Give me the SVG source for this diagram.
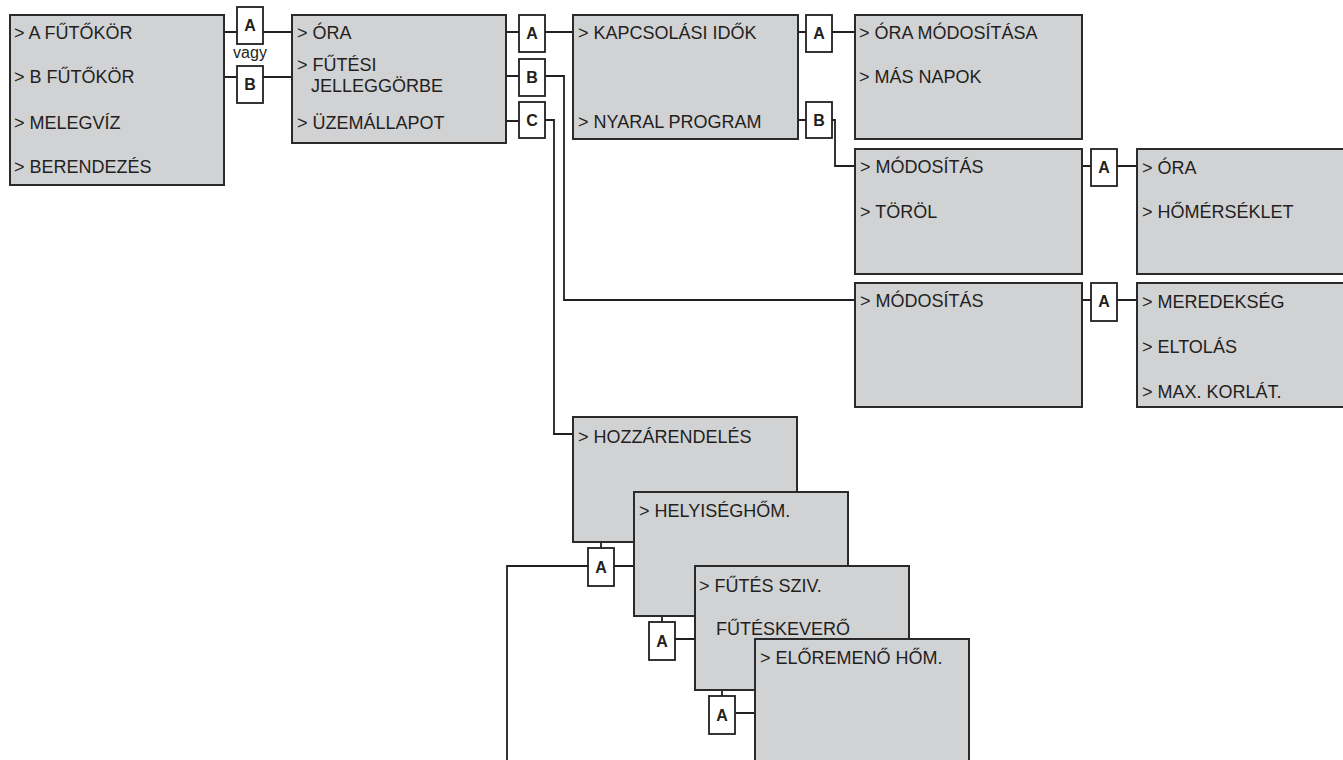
<svg xmlns="http://www.w3.org/2000/svg" width="1343" height="760" viewBox="0 0 1343 760">
<style>
.node{fill:#d1d2d4;stroke:#2a2a2a;stroke-width:2}
.t{font-family:"Liberation Sans",Arial,sans-serif;font-size:18px;fill:#231f20}
.conn path{fill:none;stroke:#231f20;stroke-width:1.8}
.lb rect{fill:#fff;stroke:#231f20;stroke-width:1.8}
.lb text{font-family:"Liberation Sans",Arial,sans-serif;font-size:16px;font-weight:bold;fill:#231f20;text-anchor:middle}
.v{font-family:"Liberation Sans",Arial,sans-serif;font-size:16px;fill:#231f20;text-anchor:middle}
</style>
<rect width="1343" height="760" fill="#fff"/>

<g id="connectors" class="conn">
<path d="M156 32H237M263 32H292"/>
<path d="M156 77H237M263 77H292"/>
<path d="M392 32H519M545 32H573"/>
<path d="M460 76H519M545 76H564V300H855"/>
<path d="M494 121H519M545 120H554V434H573"/>
<path d="M778 32H806M832 32H855"/>
<path d="M796 120H806M832 120H835V166H855"/>
<path d="M1038 166H1091M1117 166H1137"/>
<path d="M1029 300H1091M1117 300H1137"/>
<path d="M601 542V548M614 566H634M588 566H507V770"/>
<path d="M662 616V622M675 639H695"/>
<path d="M722 690V696M736 713H755"/>
<g class="lb">
<rect x="237" y="7" width="26" height="37"/><text x="250" y="31">A</text>
<rect x="237" y="66" width="26" height="37"/><text x="250" y="90">B</text>
<rect x="519" y="15" width="26" height="37"/><text x="532" y="39">A</text>
<rect x="519" y="59" width="26" height="37"/><text x="532" y="83">B</text>
<rect x="519" y="102" width="26" height="36"/><text x="532" y="126">C</text>
<rect x="806" y="15" width="26" height="37"/><text x="819" y="39">A</text>
<rect x="806" y="102" width="26" height="36"/><text x="819" y="126">B</text>
<rect x="1091" y="149" width="26" height="37"/><text x="1104" y="173">A</text>
<rect x="1091" y="283" width="26" height="38"/><text x="1104" y="307">A</text>
<rect x="588" y="548" width="26" height="38"/><text x="601" y="573">A</text>
<rect x="649" y="622" width="26" height="38"/><text x="662" y="647">A</text>
<rect x="709" y="696" width="26" height="38"/><text x="722" y="721">A</text>
</g>
<text class="v" x="250" y="58">vagy</text>
</g>

<g id="n-main">
<rect class="node" x="10" y="15" width="214" height="170"/>
<text class="t" x="14" y="39">&gt; A FŰTŐKÖR</text>
<text class="t" x="14" y="83">&gt; B FŰTŐKÖR</text>
<text class="t" x="14" y="129">&gt; MELEGVÍZ</text>
<text class="t" x="14" y="173">&gt; BERENDEZÉS</text>
</g>

<g id="n-kor">
<rect class="node" x="292" y="15" width="214" height="128"/>
<text class="t" x="297" y="39">&gt; ÓRA</text>
<text class="t" x="297" y="71">&gt; FŰTÉSI</text>
<text class="t" x="311" y="92">JELLEGGÖRBE</text>
<text class="t" x="297" y="129">&gt; ÜZEMÁLLAPOT</text>
</g>

<g id="n-ora">
<rect class="node" x="573" y="15" width="225" height="124"/>
<text class="t" x="578" y="39">&gt; KAPCSOLÁSI IDŐK</text>
<text class="t" x="578" y="128">&gt; NYARAL PROGRAM</text>
</g>

<g id="n-kapcs">
<rect class="node" x="855" y="15" width="227" height="124"/>
<text class="t" x="859" y="39">&gt; ÓRA MÓDOSÍTÁSA</text>
<text class="t" x="859" y="83">&gt; MÁS NAPOK</text>
</g>

<g id="n-nyaral">
<rect class="node" x="855" y="149" width="227" height="125"/>
<text class="t" x="860" y="173">&gt; MÓDOSÍTÁS</text>
<text class="t" x="860" y="218">&gt; TÖRÖL</text>
</g>

<g id="n-nyaral-mod">
<rect class="node" x="1137" y="149" width="215" height="125"/>
<text class="t" x="1142" y="174">&gt; ÓRA</text>
<text class="t" x="1142" y="218">&gt; HŐMÉRSÉKLET</text>
</g>

<g id="n-jelleg">
<rect class="node" x="855" y="283" width="227" height="124"/>
<text class="t" x="860" y="307">&gt; MÓDOSÍTÁS</text>
</g>

<g id="n-jelleg-mod">
<rect class="node" x="1137" y="283" width="215" height="124"/>
<text class="t" x="1142" y="308">&gt; MEREDEKSÉG</text>
<text class="t" x="1142" y="353">&gt; ELTOLÁS</text>
<text class="t" x="1142" y="398">&gt; MAX. KORLÁT.</text>
</g>

<g id="n-hozza">
<rect class="node" x="573" y="417" width="224" height="125"/>
<text class="t" x="578" y="443">&gt; HOZZÁRENDELÉS</text>
</g>

<g id="n-helyiseg">
<rect class="node" x="634" y="492" width="214" height="124"/>
<text class="t" x="639" y="517">&gt; HELYISÉGHŐM.</text>
</g>

<g id="n-futes">
<rect class="node" x="695" y="566" width="214" height="124"/>
<text class="t" x="699" y="592">&gt; FŰTÉS SZIV.</text>
<text class="t" x="716" y="635">FŰTÉSKEVERŐ</text>
</g>

<g id="n-eloremeno">
<rect class="node" x="755" y="639" width="214" height="140"/>
<text class="t" x="760" y="664">&gt; ELŐREMENŐ HŐM.</text>
</g>
</svg>
